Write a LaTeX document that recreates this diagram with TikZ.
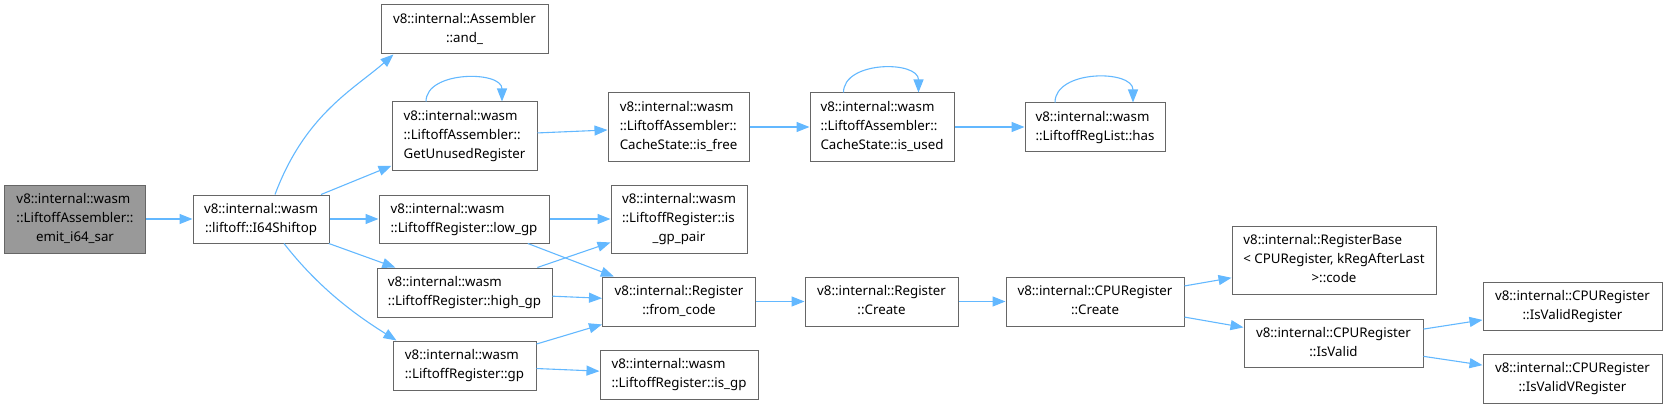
\documentclass[tikz,border=0pt]{standalone}
\usepackage{fontspec}
\setmainfont{Noto Sans}
\usetikzlibrary{arrows.meta}

\definecolor{edgeblue}{HTML}{63B8FF}
\definecolor{boxgray}{HTML}{666666}
\definecolor{mainfill}{HTML}{999999}

\newcommand{\fnlabel}[2]{\begin{tabular}{@{}l@{}}#1\\\multicolumn{1}{@{}c@{}}{#2}\end{tabular}}

\tikzset{
    fn/.style={draw=boxgray, line width=1pt, fill=white, inner sep=0pt,
        font=\fontsize{13.3}{19}\selectfont},
    fnmain/.style={fn, fill=mainfill},
    call/.style={draw=edgeblue, line width=1.1pt, -{Triangle[length=13pt,width=10pt]}}
}

\begin{document}
\begin{tikzpicture}[x=1pt, y=-1pt]
        \useasboundingbox (0, 0) rectangle (1667, 409);

        \node[fnmain, minimum width=141pt, minimum height=68pt] (emit) at (75, 219)
            {\fnlabel{v8::internal::wasm\\::LiftoffAssembler::}{emit\_i64\_sar}};
        \node[fn, minimum width=136pt, minimum height=48pt] (shift) at (261, 219)
            {\fnlabel{v8::internal::wasm}{::liftoff::I64Shiftop}};

        \node[fn, minimum width=167pt, minimum height=49pt] (and) at (464.5, 29.5)
            {\fnlabel{v8::internal::Assembler}{::and\_}};
        \node[fn, minimum width=145pt, minimum height=68pt] (getunused) at (464.5, 136)
            {\fnlabel{v8::internal::wasm\\::LiftoffAssembler::}{GetUnusedRegister}};
        \node[fn, minimum width=170pt, minimum height=48pt] (lowgp) at (464, 219)
            {\fnlabel{v8::internal::wasm}{::LiftoffRegister::low\_gp}};
        \node[fn, minimum width=175pt, minimum height=49pt] (highgp) at (464.5, 292.5)
            {\fnlabel{v8::internal::wasm}{::LiftoffRegister::high\_gp}};
        \node[fn, minimum width=143pt, minimum height=49pt] (gp) at (464.5, 365.5)
            {\fnlabel{v8::internal::wasm}{::LiftoffRegister::gp}};

        \node[fn, minimum width=141pt, minimum height=68pt] (isfree) at (678.5, 127)
            {\fnlabel{v8::internal::wasm\\::LiftoffAssembler::}{CacheState::is\_free}};
        \node[fn, minimum width=136pt, minimum height=68pt] (isgppair) at (679, 219)
            {\fnlabel{v8::internal::wasm\\::LiftoffRegister::is}{\_gp\_pair}};
        \node[fn, minimum width=153pt, minimum height=49pt] (fromcode) at (679, 301.5)
            {\fnlabel{v8::internal::Register}{::from\_code}};
        \node[fn, minimum width=158pt, minimum height=49pt] (isgp) at (679, 374.5)
            {\fnlabel{v8::internal::wasm}{::LiftoffRegister::is\_gp}};

        \node[fn, minimum width=144pt, minimum height=68pt] (isused) at (882, 127)
            {\fnlabel{v8::internal::wasm\\::LiftoffAssembler::}{CacheState::is\_used}};
        \node[fn, minimum width=153pt, minimum height=49pt] (regcreate) at (881.5, 301.5)
            {\fnlabel{v8::internal::Register}{::Create}};

        \node[fn, minimum width=140pt, minimum height=48pt] (has) at (1095, 127)
            {\fnlabel{v8::internal::wasm}{::LiftoffRegList::has}};
        \node[fn, minimum width=178pt, minimum height=49pt] (cpucreate) at (1095, 301.5)
            {\fnlabel{v8::internal::CPURegister}{::Create}};

        \node[fn, minimum width=204pt, minimum height=68pt] (regbase) at (1334, 260)
            {\fnlabel{v8::internal::RegisterBase\\< CPURegister, kRegAfterLast}{>::code}};
        \node[fn, minimum width=179pt, minimum height=48pt] (isvalid) at (1333.5, 343)
            {\fnlabel{v8::internal::CPURegister}{::IsValid}};

        \node[fn, minimum width=179pt, minimum height=48pt] (isvalidreg) at (1572.5, 306)
            {\fnlabel{v8::internal::CPURegister}{::IsValidRegister}};
        \node[fn, minimum width=179pt, minimum height=49pt] (isvalidvreg) at (1572.5, 378.5)
            {\fnlabel{v8::internal::CPURegister}{::IsValidVRegister}};

        \draw[call] (emit) -- (shift);
        \draw[call] ([xshift=14pt]shift.north) .. controls +(30, -80) and +(-40, 35) .. ([xshift=-71pt]and.south);
        \draw[call] (shift) -- (getunused);
        \draw[call] (shift) -- (lowgp);
        \draw[call] (shift) -- (highgp);
        \draw[call] ([xshift=23pt]shift.south) .. controls +(35, 45) and +(-40, -25) .. ([xshift=-68pt]gp.north);

        \draw[call] ([xshift=-38.5pt]getunused.north) .. controls +(0, -31) and +(0, -31) .. ([xshift=37.5pt]getunused.north);
        \draw[call] (getunused) -- (isfree);
        \draw[call] (isfree) -- (isused);
        \draw[call] ([xshift=-38.5pt]isused.north) .. controls +(0, -32) and +(0, -32) .. ([xshift=36.5pt]isused.north);
        \draw[call] (isused) -- (has);
        \draw[call] ([xshift=-40pt]has.north) .. controls +(0, -33) and +(0, -33) .. ([xshift=38pt]has.north);

        \draw[call] (lowgp) -- (isgppair);
        \draw[call] (lowgp) -- (fromcode);
        \draw[call] (highgp) -- (isgppair);
        \draw[call] (highgp) -- (fromcode);
        \draw[call] (gp) -- (fromcode);
        \draw[call] (gp) -- (isgp);

        \draw[call] (fromcode) -- (regcreate);
        \draw[call] (regcreate) -- (cpucreate);
        \draw[call] (cpucreate) -- (regbase);
        \draw[call] (cpucreate) -- (isvalid);
        \draw[call] (isvalid) -- (isvalidreg);
        \draw[call] (isvalid) -- (isvalidvreg);
\end{tikzpicture}
\end{document}
